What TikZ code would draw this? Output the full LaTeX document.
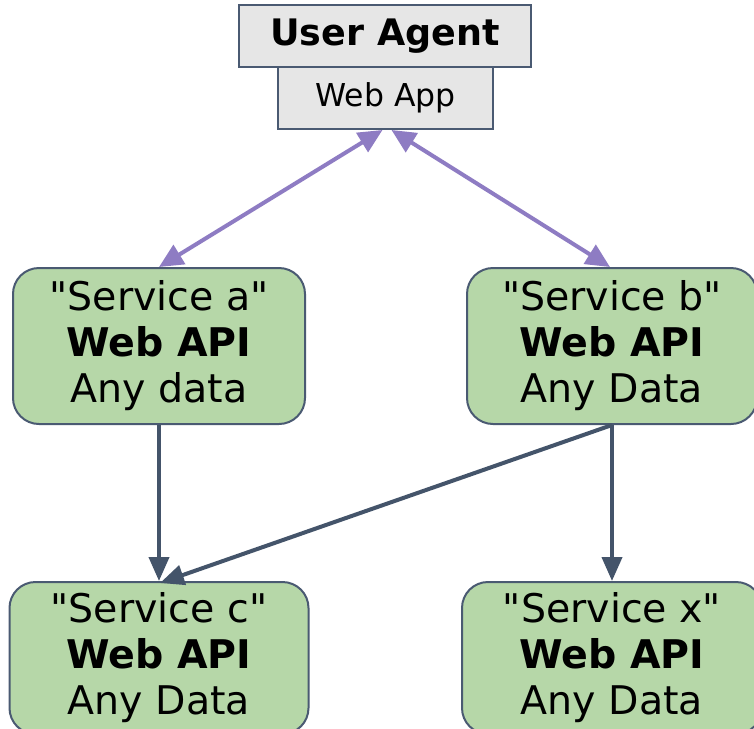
\documentclass[tikz,border=0pt]{standalone}
\usepackage{fontspec}
\setmainfont{DejaVu Sans}
\usetikzlibrary{arrows.meta}
\definecolor{boxgray}{HTML}{E6E6E6}
\definecolor{boxedge}{HTML}{4A5A72}
\definecolor{apigreen}{HTML}{B6D7A8}
\definecolor{callpurple}{HTML}{8E7CC3}
\definecolor{calldark}{HTML}{44546A}
\newcommand\WebAPI{\textbf{Web API}}
\newcommand\SvcName[1]{\textquotedbl Service #1\textquotedbl}

\begin{document}
\begin{tikzpicture}[x=1pt,y=-1pt,
  agentbox/.style={draw=boxedge,line width=2pt,fill=boxgray,rectangle,inner sep=0pt},
  apibox/.style={draw=boxedge,line width=2pt,fill=apigreen,rounded corners=26pt,
    align=center,inner sep=0pt,minimum height=156pt,font=\fontsize{39.5}{46}\selectfont},
  userlink/.style={callpurple,line width=4pt,{Triangle[length=24pt,width=22pt]}-{Triangle[length=24pt,width=22pt]}},
  datalink/.style={calldark,line width=4pt,-{Triangle[length=24pt,width=20pt]}}]
\useasboundingbox[fill=white] (0,0) rectangle (754,728);
% Drawing the user agent
\node[agentbox,minimum width=292pt,minimum height=62pt,font=\fontsize{36.5}{40}\selectfont\bfseries] (agent) at (385,36) {User Agent};
\node[agentbox,minimum width=215pt,minimum height=62pt,font=\fontsize{31.5}{34}\selectfont] (webapp) at (385.5,98) {Web App};
% Drawing the services
\node[apibox,minimum width=292pt] (svca) at (159,346) {\SvcName{a}\\\WebAPI\\Any data};
\node[apibox,minimum width=290pt] (svcb) at (612,346) {\SvcName{b}\\\WebAPI\\Any Data};
\node[apibox,minimum width=299pt,minimum height=152pt] (svcc) at (159,658) {\SvcName{c}\\\WebAPI\\Any Data};
\node[apibox,minimum width=300pt,minimum height=152pt] (svcx) at (612,658) {\SvcName{x}\\\WebAPI\\Any Data};
% Drawing the calls
\draw[userlink] ([xshift=-3pt]webapp.south) -- (svca.north);
\draw[userlink] ([xshift=6pt]webapp.south) -- ([xshift=-2pt]svcb.north);
\draw[datalink] (svca.south) -- (svcc.north);
\draw[datalink] (svcb.south) -- (svcx.north);
\draw[datalink] (svcb.south) -- ([xshift=1pt,yshift=-2pt]svcc.north);
\end{tikzpicture}
\end{document}
